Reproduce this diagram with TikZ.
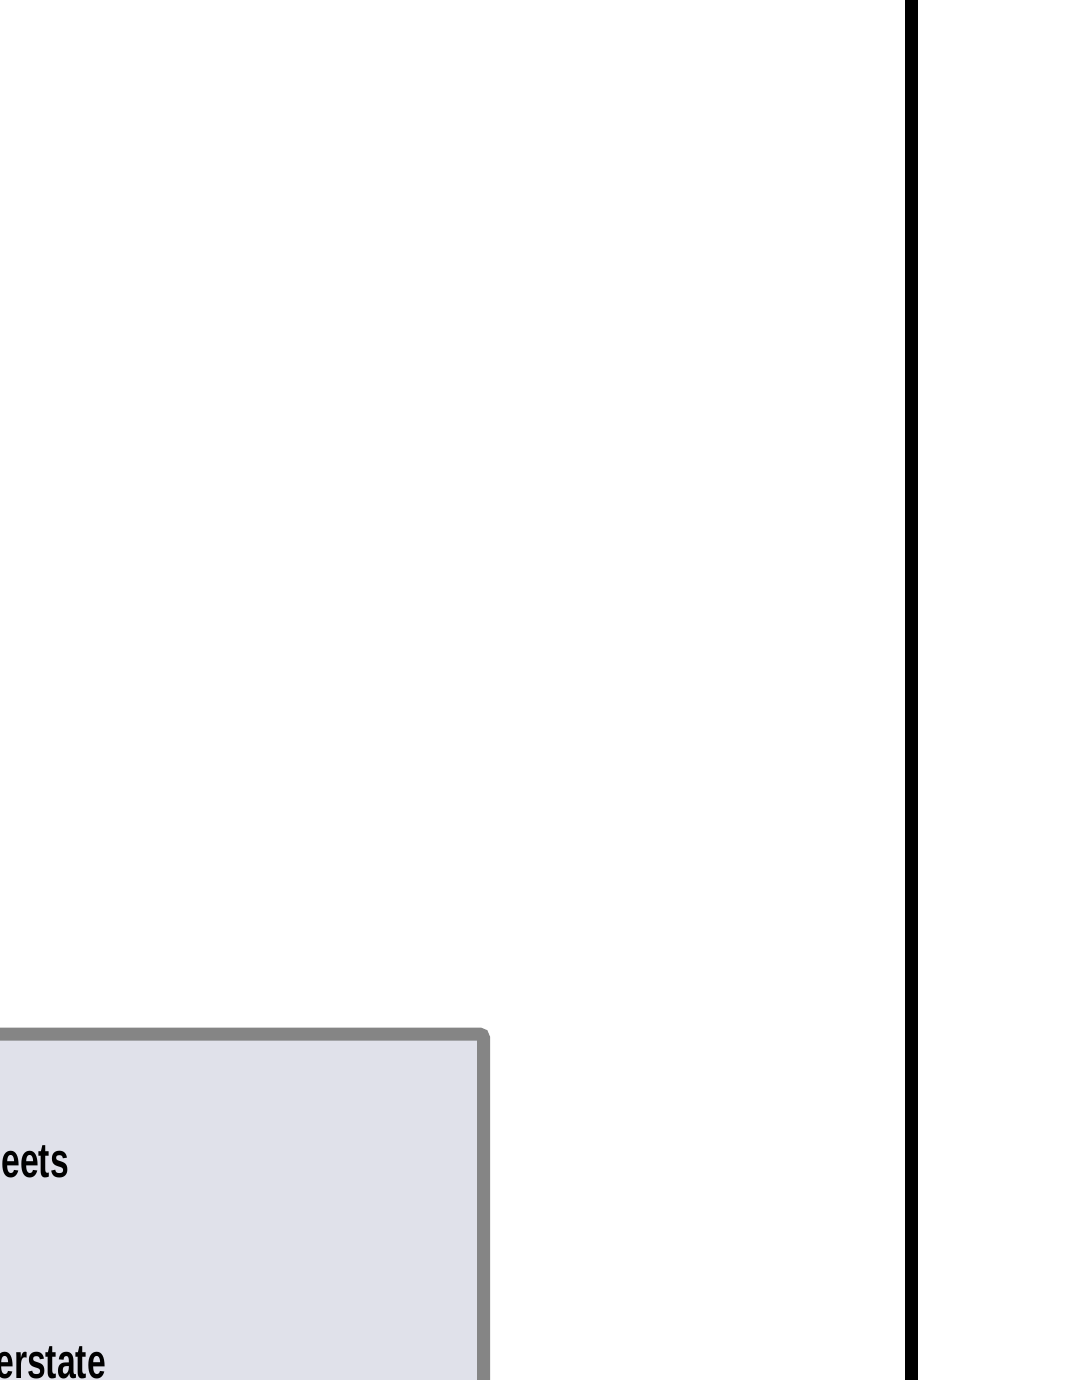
\documentclass[tikz,border=0pt]{standalone}
\usepackage{fontspec}
\setmainfont[FakeStretch=0.69]{Liberation Sans}
\definecolor{boxfill}{HTML}{E0E1EA}
\definecolor{boxline}{HTML}{858585}
\begin{document}
\begin{tikzpicture}[x=1bp,y=-1bp,
  lbl/.style={inner sep=0pt,anchor=base east,font=\fontsize{49}{58}\selectfont\bfseries,text=black},
  panel/.style={draw=boxline,fill=boxfill,line width=13bp,rounded corners=4bp},
  divider/.style={draw=black,line width=13bp}]
\useasboundingbox[fill=white] (0,0) rectangle (1080,1380);
\clip (0,0) rectangle (1080,1380);
\draw[panel] (-30,1400) |- (483.5,1034) -- (483.5,1400);
\draw[divider] (911.5,-10) -- (911.5,1390);
\node[lbl] (t1) at (69,1177) {eets};
\node[lbl] (t2) at (106,1378) {erstate};
\end{tikzpicture}
\end{document}
